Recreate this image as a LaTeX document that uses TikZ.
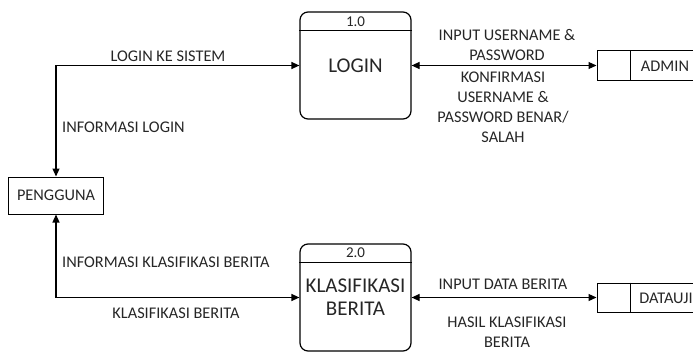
\documentclass[tikz,border=0pt]{standalone}
\usepackage{fontspec}
\setmainfont{Carlito}
\usetikzlibrary{arrows.meta,calc}
\begin{document}
\begin{tikzpicture}[x=1pt,y=-1pt,
  every node/.style={font=\fontsize{16.3}{20}\selectfont, text=black!85},
  proc/.style={draw, line width=1.2pt, rounded corners=8pt, minimum width=111pt, minimum height=107pt, inner sep=0pt, font=\fontsize{21}{23}\selectfont, align=center},
  ent/.style={draw, line width=1pt, minimum width=95pt, minimum height=37pt, inner sep=0pt},
  storebox/.style={draw, line width=1pt, minimum width=108pt, minimum height=29pt, inner sep=0pt},
  lbl/.style={align=center, inner sep=0pt},
  flow/.style={line width=1.2pt, {Triangle[length=8pt,width=7pt]}-{Triangle[length=8pt,width=7pt]}}
]
\useasboundingbox (0,0) rectangle (693,353);
% processes
\node[proc] (login) at (355.5,65.5) {LOGIN};
\draw[line width=1.2pt] ($(login.north west)+(0,19)$) -- ($(login.north east)+(0,19)$);
\node[lbl, font=\fontsize{15}{18}\selectfont] (n1) at (355.5,22) {1.0};
\node[proc] (klas) at (355.5,297.5) {KLASIFIKASI\\BERITA};
\draw[line width=1.2pt] ($(klas.north west)+(0,19)$) -- ($(klas.north east)+(0,19)$);
\node[lbl, font=\fontsize{15}{18}\selectfont] (n2) at (355.5,253) {2.0};
% entity
\node[ent] (peng) at (56,195.5) {PENGGUNA};
% stores
\node[storebox] (admin) at (651,65.5) {};
\draw[line width=1pt] ($(admin.north west)+(34,0)$) -- ($(admin.south west)+(34,0)$);
\node[lbl] (admint) at (665,66) {ADMIN};
\node[storebox] (data) at (651,297.5) {};
\draw[line width=1pt] ($(data.north west)+(34,0)$) -- ($(data.south west)+(34,0)$);
\node[lbl] (datat) at (666,298) {DATAUJI};
% flows
\draw[flow] (peng.north) |- (login.west);
\draw[flow] (peng.south) |- (klas.west);
\draw[flow] (login.east) -- (admin.west);
\draw[flow] (klas.east) -- (data.west);
% labels
\node[lbl] (l1) at (168,56) {LOGIN KE SISTEM};
\node[lbl, anchor=west] (l2) at (62,127) {INFORMASI LOGIN};
\node[lbl, anchor=west] (l3) at (62,262) {INFORMASI KLASIFIKASI BERITA};
\node[lbl] (l4) at (176,313) {KLASIFIKASI BERITA};
\node[lbl] (l5) at (507,45) {INPUT USERNAME \&\\PASSWORD};
\node[lbl] (l6) at (503,107) {KONFIRMASI\\USERNAME \&\\PASSWORD BENAR/\\SALAH};
\node[lbl] (l7) at (503,284) {INPUT DATA BERITA};
\node[lbl] (l8) at (507,332.5) {HASIL KLASIFIKASI\\BERITA};
\end{tikzpicture}
\end{document}
